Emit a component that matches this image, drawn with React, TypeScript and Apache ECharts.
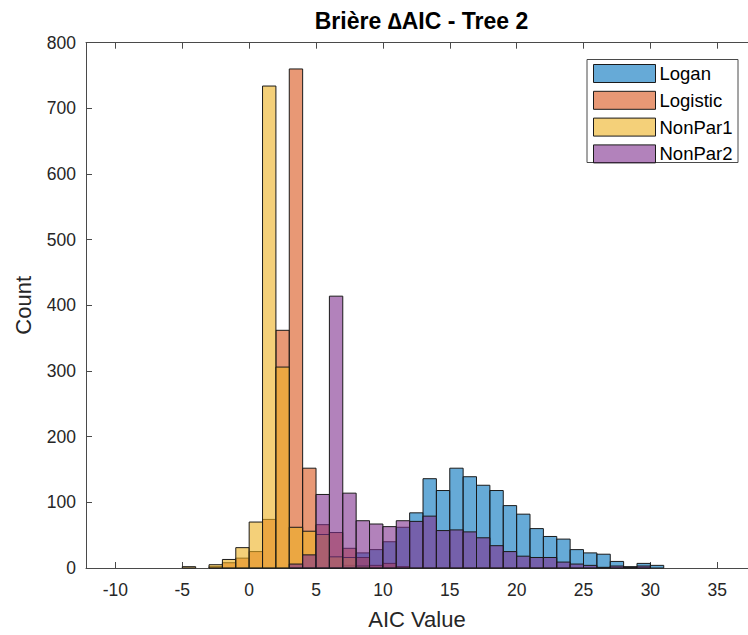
import React, { useEffect, useRef } from "react";
import * as echarts from "echarts";

const TITLE = "Brière ∆AIC - Tree 2";
const X_NAME = "AIC Value";
const Y_NAME = "Count";
const BIN_WIDTH = 1;
const BIN_STARTS = [-5, -4, -3, -2, -1, 0, 1, 2, 3, 4, 5, 6, 7, 8, 9, 10, 11, 12, 13, 14, 15, 16, 17, 18, 19, 20, 21, 22, 23, 24, 25, 26, 27, 28, 29, 30];
const LOGAN =    [0, 0, 0, 0, 0, 0, 0, 0, 0, 0, 0, 0, 4, 23, 28, 40, 62, 84, 136, 118, 152, 139, 126, 118, 95, 82, 60, 48, 44, 28, 23, 21, 10, 2, 7, 4];
const LOGISTIC = [0, 0, 2, 8, 15, 25, 74, 362, 760, 152, 66, 54, 30, 16, 4, 7, 2, 0, 0, 0, 0, 0, 0, 0, 0, 0, 0, 0, 0, 0, 0, 0, 0, 0, 0, 0];
const NONPAR1 =  [2, 0, 5, 13, 31, 70, 734, 306, 62, 56, 51, 17, 16, 3, 0, 0, 0, 0, 0, 0, 0, 0, 0, 0, 0, 0, 0, 0, 0, 0, 0, 0, 0, 0, 0, 0];
const NONPAR2 =  [0, 0, 0, 0, 0, 0, 0, 0, 6, 20, 112, 414, 114, 72, 67, 63, 72, 71, 79, 57, 58, 55, 46, 34, 25, 18, 16, 16, 9, 6, 4, 1, 3, 1, 3, 0];
const SERIES_NAMES = ["Logan", "Logistic", "NonPar1", "NonPar2"];
const SERIES_VALUES = [LOGAN, LOGISTIC, NONPAR1, NONPAR2];
const SERIES_COLORS = ["rgba(0,114,189,0.6)", "rgba(217,83,25,0.6)", "rgba(237,177,32,0.6)", "rgba(126,47,142,0.6)"];
const X_TICKS = [-10, -5, 0, 5, 10, 15, 20, 25, 30, 35];
const X_MIN = -12.2;
const X_MAX = 37.3;
const Y_MIN = 0;
const Y_MAX = 800;
const Y_INTERVAL = 100;

const FONT = "'Liberation Sans', Arial, Helvetica, sans-serif";
const TXT = "#262626";
const AX = "#4a4a4a";

export default function App() {
  const ref = useRef<HTMLDivElement>(null);
  useEffect(() => {
    if (!ref.current) return;
    const chart = echarts.init(ref.current, null, { renderer: "svg" });
    const series = SERIES_NAMES.map((name, i) => ({
      name,
      type: "custom",
      xAxisIndex: 0,
      yAxisIndex: 0,
      itemStyle: { color: SERIES_COLORS[i], borderColor: "#1a1a1a", borderWidth: 1 },
      data: BIN_STARTS.map((b, j) => [b, SERIES_VALUES[i][j]]).filter((d) => d[1] > 0),
      renderItem: (params: any, api: any) => {
        const x0 = api.value(0);
        const c = api.value(1);
        const p0 = api.coord([x0, c]);
        const p1 = api.coord([x0 + BIN_WIDTH, 0]);
        return {
          type: "rect",
          shape: { x: p0[0], y: p0[1], width: p1[0] - p0[0], height: p1[1] - p0[1] },
          style: api.style(),
        };
      },
    }));
    const option: any = {
      animation: false,
      backgroundColor: "#ffffff",
      textStyle: { fontFamily: FONT },
      grid: { left: 86, right: -9, top: 42.7, bottom: 64.5, containLabel: false },
      xAxis: [
        {
          type: "value",
          min: X_MIN,
          max: X_MAX,
          name: X_NAME,
          nameLocation: "middle",
          nameGap: 40,
          nameTextStyle: { fontSize: 22, color: TXT, fontFamily: FONT },
          axisLine: { show: true, onZero: false, lineStyle: { color: AX, width: 1 } },
          axisTick: { show: true, inside: true, length: 6, customValues: X_TICKS, lineStyle: { color: AX } },
          axisLabel: { customValues: X_TICKS, fontSize: 17.5, color: TXT, margin: 13, fontFamily: FONT },
          splitLine: { show: false },
        },
        {
          type: "value",
          position: "top",
          min: X_MIN,
          max: X_MAX,
          axisLine: { show: true, onZero: false, lineStyle: { color: AX, width: 1 } },
          axisTick: { show: true, inside: true, length: 6, customValues: X_TICKS, lineStyle: { color: AX } },
          axisLabel: { show: false },
          splitLine: { show: false },
        },
      ],
      yAxis: [
        {
          type: "value",
          min: Y_MIN,
          max: Y_MAX,
          interval: Y_INTERVAL,
          name: Y_NAME,
          nameLocation: "middle",
          nameGap: 52,
          nameTextStyle: { fontSize: 22, color: TXT, fontFamily: FONT },
          axisLine: { show: true, onZero: false, lineStyle: { color: AX, width: 1 } },
          axisTick: { show: true, inside: true, length: 6, lineStyle: { color: AX } },
          axisLabel: { fontSize: 17.5, color: TXT, margin: 10, fontFamily: FONT },
          splitLine: { show: false },
        },
      ],
      legend: {
        orient: "vertical",
        left: 593,
        top: 64,
        itemWidth: 62,
        itemHeight: 18,
        itemGap: 7.8,
        icon: "rect",
        padding: 0,
        data: SERIES_NAMES,
        itemStyle: { borderColor: "#1a1a1a", borderWidth: 1 },
        textStyle: { fontSize: 18.5, color: "#000", fontFamily: FONT, padding: [0, 0, 0, -1] },
      },
      graphic: [
        {
          type: "rect",
          z: 1,
          shape: { x: 587, y: 59.5, width: 151, height: 103 },
          style: { fill: "#ffffff", stroke: "#4a4a4a", lineWidth: 1 },
        },
        {
          type: "text",
          x: 421.5,
          y: 21,
          style: {
            text: TITLE,
            fill: "#000",
            fontSize: 23,
            fontWeight: "bold",
            fontFamily: FONT,
            textAlign: "center",
            textVerticalAlign: "middle",
          },
        },
      ],
      series,
    };
    chart.setOption(option);
    return () => chart.dispose();
  }, []);
  return <div ref={ref} style={{ position: "fixed", left: 0, top: 0, width: 748, height: 635 }} />;
}
